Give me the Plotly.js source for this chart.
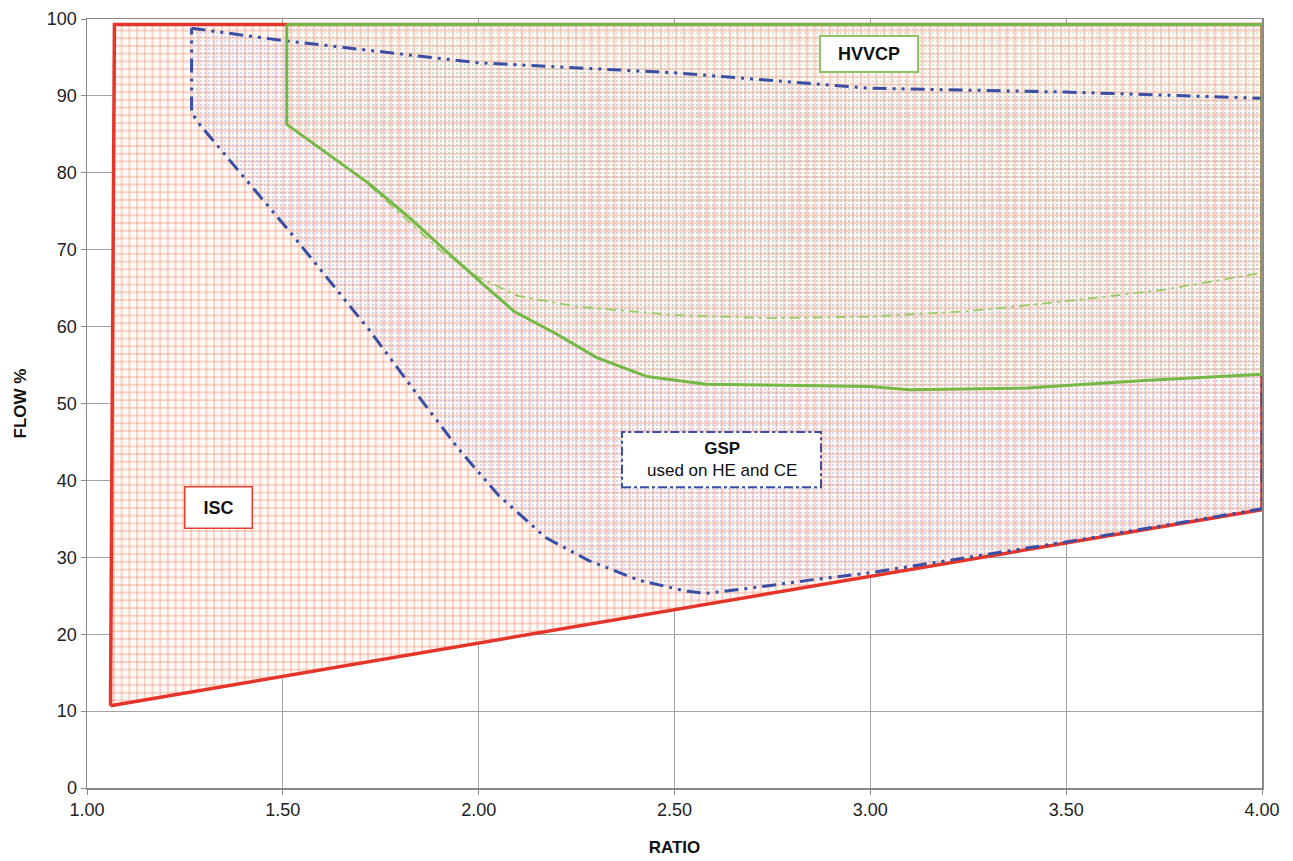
<!DOCTYPE html>
<html>
<head>
<meta charset="utf-8">
<script src="https://cdn.plot.ly/plotly-3.0.1.min.js"></script>
<style>html,body{margin:0;padding:0;background:#fff;}#chart{width:1293px;height:861px;}</style>
</head>
<body>
<div id="chart"></div>
<script>
// ISC envelope (red)
const iscX = [1.06, 1.07, 4.00, 4.00, 1.06];
const iscY = [10.7, 99.3, 99.3, 36.2, 10.7];

// GSP envelope (blue dash-dot)
const gspX = [1.267, 1.50, 2.00, 2.50, 3.00, 3.50, 4.00, 4.00, 3.50, 3.00, 2.84, 2.71, 2.58, 2.53, 2.41, 2.28, 2.17, 2.05, 1.95, 1.85, 1.72, 1.52, 1.378, 1.289, 1.267, 1.267];
const gspY = [98.8, 97.2, 94.3, 93.0, 91.0, 90.5, 89.7, 36.3, 32.0, 28.0, 27.0, 26.1, 25.3, 25.6, 27.0, 29.6, 32.6, 38.1, 44.0, 50.7, 59.6, 72.2, 80.8, 86.2, 87.8, 98.8];

// HVVCP envelope (green)
const hvX = [1.51, 1.51, 1.72, 1.82, 1.90, 2.00, 2.09, 2.20, 2.30, 2.43, 2.58, 3.00, 3.10, 3.40, 3.70, 4.00, 4.00, 1.51];
const hvY = [99.3, 86.3, 78.6, 74.3, 70.6, 66.0, 62.0, 59.0, 56.0, 53.5, 52.5, 52.2, 51.8, 52.0, 53.0, 53.8, 99.3, 99.3];

// HVVCP alternative limit (light green dashed)
const altX = [1.72, 1.82, 1.90, 2.00, 2.10, 2.25, 2.50, 2.75, 3.00, 3.25, 3.50, 3.75, 4.00];
const altY = [78.4, 73.8, 70.0, 66.4, 64.0, 62.6, 61.5, 61.1, 61.3, 62.0, 63.3, 64.8, 67.0];

const xTicks = [1.0, 1.5, 2.0, 2.5, 3.0, 3.5, 4.0];
const yTicks = [0, 10, 20, 30, 40, 50, 60, 70, 80, 90, 100];

const RED = '#e5352b', BLUE = '#3a4ea3', GREEN = '#74b845', LGREEN = '#9acb66';

const traces = [
  {x: iscX, y: iscY, mode: 'none', fill: 'toself', fillcolor: 'rgba(0,0,0,0)',
   fillpattern: {shape: '+', fgcolor: '#f19a80', bgcolor: 'rgba(255,250,248,1)', size: 7.7, solidity: 0.2}, hoverinfo: 'skip'},
  {x: gspX, y: gspY, mode: 'none', fill: 'toself', fillcolor: 'rgba(0,0,0,0)',
   fillpattern: {shape: '.', fgcolor: '#aab5e6', bgcolor: 'rgba(0,0,0,0)', size: 4, solidity: 0.14}, hoverinfo: 'skip'},
  {x: hvX, y: hvY, mode: 'none', fill: 'toself', fillcolor: 'rgba(0,0,0,0)',
   fillpattern: {shape: '.', fgcolor: '#c3d3b6', bgcolor: 'rgba(0,0,0,0)', size: 4, solidity: 0.14}, hoverinfo: 'skip'},
  {x: iscX, y: iscY, mode: 'lines', line: {color: RED, width: 3.5}, hoverinfo: 'skip'},
  {x: gspX, y: gspY, mode: 'lines', line: {color: BLUE, width: 3, dash: '14px,6px,3px,6px,3px,6px'}, hoverinfo: 'skip'},
  {x: altX, y: altY, mode: 'lines', line: {color: LGREEN, width: 1.8, dash: '10px,5px,3px,5px'}, hoverinfo: 'skip'},
  {x: hvX, y: hvY, mode: 'lines', line: {color: GREEN, width: 3}, hoverinfo: 'skip'}
];

const layout = {
  width: 1293, height: 861,
  margin: {l: 87, r: 31, t: 19, b: 73},
  paper_bgcolor: '#fff', plot_bgcolor: '#fff',
  showlegend: false,
  font: {family: 'Liberation Sans, Arial, sans-serif', size: 18, color: '#222'},
  xaxis: {
    range: [1, 4], tickvals: xTicks, tickformat: '.2f',
    showgrid: true, gridcolor: '#a3a3a3', gridwidth: 1,
    showline: true, linecolor: '#8a8a8a', linewidth: 1.5, mirror: true,
    ticks: 'outside', ticklen: 5, tickcolor: '#8a8a8a',
    zeroline: false,
    tickfont: {size: 18, color: '#222'},
    title: {text: 'RATIO', font: {size: 17, color: '#111', weight: 'bold'}, standoff: 22}
  },
  yaxis: {
    range: [0, 100], tickvals: yTicks,
    showgrid: true, gridcolor: '#a3a3a3', gridwidth: 1,
    showline: true, linecolor: '#8a8a8a', linewidth: 1.5, mirror: true,
    ticks: 'outside', ticklen: 5, tickcolor: '#8a8a8a',
    zeroline: false,
    tickfont: {size: 18, color: '#222'},
    title: {text: 'FLOW %', font: {size: 17, color: '#111', weight: 'bold'}, standoff: 16}
  },
  shapes: [
    {type: 'rect', xref: 'x', yref: 'y', x0: 2.366, x1: 2.874, y0: 39.1, y1: 46.3,
     fillcolor: '#ffffff', line: {color: BLUE, width: 2, dash: 'dashdot'}, layer: 'above'}
  ],
  annotations: [
    {x: 2.997, y: 95.4, xref: 'x', yref: 'y', text: '<b>HVVCP</b>', showarrow: false,
     font: {size: 18, color: '#111'}, bgcolor: '#ffffff', bordercolor: '#8fc465', borderwidth: 2,
     width: 94, height: 32},
    {x: 1.335, y: 36.5, xref: 'x', yref: 'y', text: '<b>ISC</b>', showarrow: false,
     font: {size: 18, color: '#111'}, bgcolor: '#ffffff', bordercolor: '#e04035', borderwidth: 1.5,
     width: 64, height: 38},
    {x: 2.62, y: 42.7, xref: 'x', yref: 'y', text: '<b>GSP</b><br>used on HE and CE', showarrow: false,
     font: {size: 17, color: '#111'}, align: 'center'}
  ]
};

Plotly.newPlot('chart', traces, layout, {displayModeBar: false, staticPlot: true});
</script>
</body>
</html>
